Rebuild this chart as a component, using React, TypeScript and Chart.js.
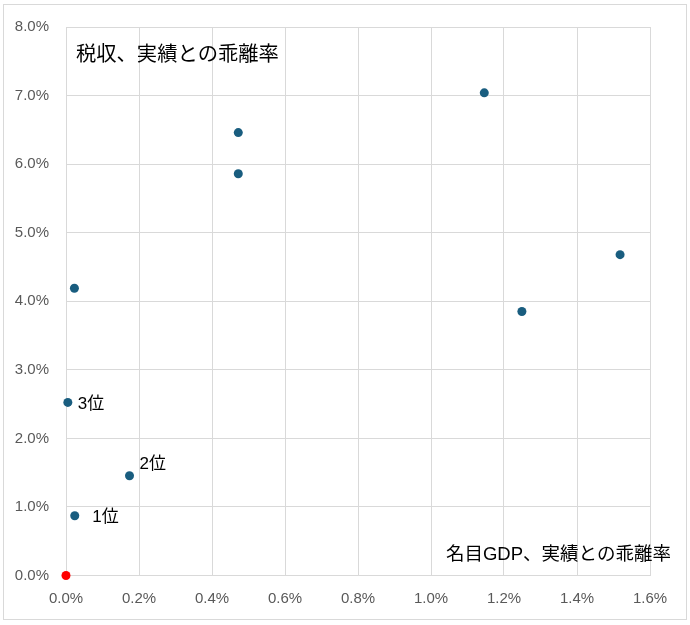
import React, { useEffect, useRef } from "react";
import { Chart, registerables } from "chart.js";

Chart.register(...registerables);

// 名目GDP 乖離率 (%), 税収 乖離率 (%)
const gdpGap: number[] = [0.024, 0.174, 0.005, 0.023, 0.472, 0.472, 1.146, 1.518, 1.249];
const taxGap: number[] = [0.872, 1.455, 2.525, 4.19, 5.86, 6.46, 7.04, 4.68, 3.85];
const rankLabels: string[] = ["1位", "2位", "3位", "", "", "", "", "", ""];
const originX: number[] = [0];
const originY: number[] = [0];

const yTitle = "税収、実績との乖離率";
const xTitle = "名目GDP、実績との乖離率";

const FONT = "'Liberation Sans', Arial, 'Noto Sans CJK JP', sans-serif";

const labelOffsets: Record<string, [number, number]> = {
  "1位": [17.5, 1.5],
  "2位": [10, -11],
  "3位": [10, 1.5],
};

const decorPlugin = {
  id: "decor",
  beforeDraw(chart: any) {
    const ctx = chart.ctx;
    ctx.save();
    ctx.fillStyle = "#ffffff";
    ctx.fillRect(0, 0, chart.width, chart.height);
    ctx.strokeStyle = "#d9d9d9";
    ctx.lineWidth = 1;
    ctx.strokeRect(3.5, 4.5, 683, 615);
    ctx.restore();
  },
  afterDatasetsDraw(chart: any) {
    const ctx = chart.ctx;
    const meta = chart.getDatasetMeta(0);
    ctx.save();
    ctx.fillStyle = "#000000";
    ctx.textBaseline = "middle";
    ctx.textAlign = "left";
    ctx.font = `17px ${FONT}`;
    meta.data.forEach((pt: any, i: number) => {
      const lbl = rankLabels[i];
      if (!lbl) return;
      const off = labelOffsets[lbl] || [10, 0];
      ctx.fillText(lbl, pt.x + off[0], pt.y + off[1]);
    });
    const area = chart.chartArea;
    ctx.font = `20.3px ${FONT}`;
    ctx.textAlign = "left";
    ctx.fillText(yTitle, area.left + 10, area.top + 28);
    ctx.font = `18.5px ${FONT}`;
    ctx.textAlign = "right";
    ctx.fillText(xTitle, area.right + 21, area.bottom - 21);
    ctx.restore();
  },
};

export default function App() {
  const ref = useRef<HTMLCanvasElement | null>(null);
  useEffect(() => {
    if (!ref.current) return;
    const chart = new Chart(ref.current, {
      type: "scatter",
      data: {
        datasets: [
          {
            data: gdpGap.map((x, i) => ({ x, y: taxGap[i] })),
            backgroundColor: "#195d7f",
            borderColor: "#195d7f",
            pointRadius: 4.5,
            borderWidth: 0,
            clip: false,
          },
          {
            data: originX.map((x, i) => ({ x, y: originY[i] })),
            backgroundColor: "#ff0000",
            borderColor: "#ff0000",
            pointRadius: 4.5,
            borderWidth: 0,
            clip: false,
          },
        ],
      },
      plugins: [decorPlugin],
      options: {
        animation: false,
        responsive: false,
        devicePixelRatio: 1,
        layout: { padding: { top: 27, right: 40, bottom: 0, left: 0 } },
        plugins: { legend: { display: false }, tooltip: { enabled: false } },
        scales: {
          x: {
            type: "linear",
            min: 0,
            max: 1.6,
            ticks: {
              stepSize: 0.2,
              padding: 14,
              color: "#595959",
              font: { size: 15, family: FONT },
              callback: (v: any) => Number(v).toFixed(1) + "%",
            },
            grid: { color: "#d9d9d9", drawTicks: false, lineWidth: 1 },
            border: { color: "#d9d9d9", width: 1 },
            afterFit: (s: any) => {
              s.height = 49.5;
            },
          },
          y: {
            type: "linear",
            min: 0,
            max: 8,
            ticks: {
              stepSize: 1,
              padding: 17,
              color: "#595959",
              font: { size: 15, family: FONT },
              callback: (v: any) => Number(v).toFixed(1) + "%",
            },
            grid: { color: "#d9d9d9", drawTicks: false, lineWidth: 1 },
            border: { color: "#d9d9d9", width: 1 },
            afterFit: (s: any) => {
              s.width = 66;
            },
          },
        },
      },
    });
    return () => chart.destroy();
  }, []);
  return (
    <div style={{ width: 690, height: 625 }}>
      <style>{`body{margin:0}`}</style>
      <canvas ref={ref} width={690} height={625} style={{ display: "block" }} />
    </div>
  );
}
